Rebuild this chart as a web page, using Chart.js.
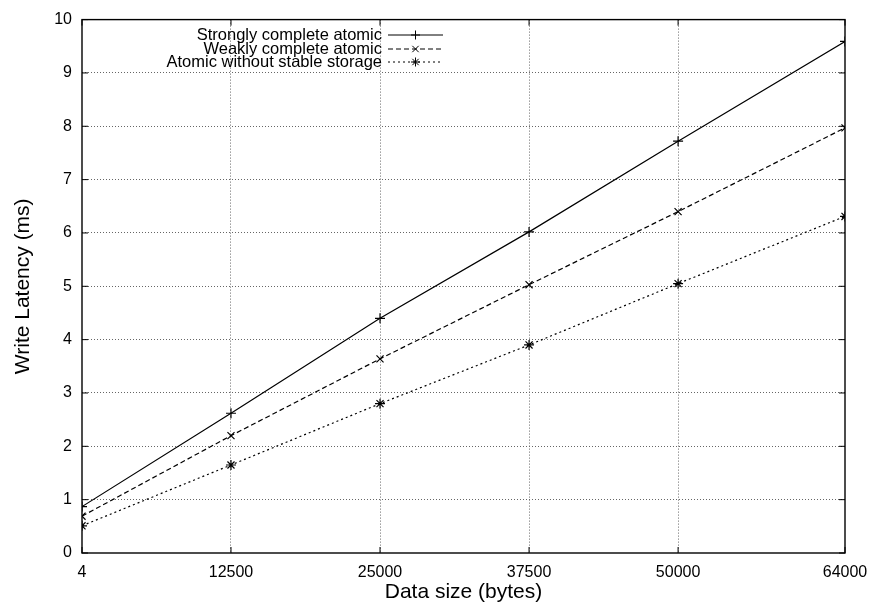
<!DOCTYPE html>
<html>
<head>
<meta charset="utf-8">
<script src="https://cdn.jsdelivr.net/npm/chart.js@4/dist/chart.umd.min.js"></script>
<style>
  html, body { margin: 0; padding: 0; background: #fff; }
  #wrap { width: 872px; height: 605px; position: relative; }
</style>
</head>
<body>
<div id="wrap"><canvas id="latency-chart" width="872" height="605"></canvas></div>
<script>
// data
const dataSizes = [4, 12500, 25000, 37500, 50000, 64000];
const strongLatency = [0.87, 2.62, 4.40, 6.02, 7.72, 9.59];
const weakLatency = [0.69, 2.20, 3.64, 5.03, 6.40, 7.97];
const noStableLatency = [0.51, 1.65, 2.80, 3.90, 5.05, 6.31];
const xTickValues = [4, 12500, 25000, 37500, 50000, 64000];
const yTickValues = [0, 1, 2, 3, 4, 5, 6, 7, 8, 9, 10];

const seriesNames = ['Strongly complete atomic', 'Weakly complete atomic', 'Atomic without stable storage'];
const FONT = '"Liberation Sans", Arial, Helvetica, sans-serif';

function toPoints(ys) {
    return dataSizes.map((x, i) => ({ x: x, y: ys[i] }));
}

// frame, inward ticks and the gnuplot style key
const framePlugin = {
    id: 'frame',
    afterDatasetsDraw(chart) {
        const ctx = chart.ctx;
        const area = chart.chartArea;
        const xs = chart.scales.x, ys = chart.scales.y;
        ctx.save();
        ctx.strokeStyle = '#000';
        ctx.lineWidth = 1.4;
        ctx.setLineDash([]);
        ctx.strokeRect(area.left, area.top, area.right - area.left, area.bottom - area.top);
        ctx.lineWidth = 1;
        ctx.beginPath();
        xTickValues.forEach(v => {
            const px = xs.getPixelForValue(v);
            ctx.moveTo(px, area.bottom); ctx.lineTo(px, area.bottom - 6);
            ctx.moveTo(px, area.top); ctx.lineTo(px, area.top + 6);
        });
        yTickValues.forEach(v => {
            const py = ys.getPixelForValue(v);
            ctx.moveTo(area.left, py); ctx.lineTo(area.left + 6, py);
            ctx.moveTo(area.right, py); ctx.lineTo(area.right - 6, py);
        });
        ctx.stroke();

        // key
        ctx.font = '16.5px ' + FONT;
        ctx.fillStyle = '#000';
        ctx.textAlign = 'right';
        ctx.textBaseline = 'middle';
        const textRight = 382, lineStart = 388, lineEnd = 443;
        const rowY = [35, 49, 62];
        chart.data.datasets.forEach((ds, i) => {
            const y = rowY[i];
            ctx.fillText(ds.label, textRight, y);
            ctx.strokeStyle = '#000';
            ctx.lineWidth = 1;
            ctx.setLineDash(ds.borderDash || []);
            ctx.beginPath();
            ctx.moveTo(lineStart, y); ctx.lineTo(lineEnd, y);
            ctx.stroke();
            ctx.setLineDash([]);
            const cx = (lineStart + lineEnd) / 2;
            Chart.helpers.drawPoint(ctx, { pointStyle: ds.pointStyle, radius: 4.5, rotation: 0, borderWidth: 1 }, cx, y);
        });
        ctx.restore();
    }
};

const ctx = document.getElementById('latency-chart').getContext('2d');
new Chart(ctx, {
    type: 'line',
    data: {
        datasets: [
            {
                label: seriesNames[0],
                data: toPoints(strongLatency),
                borderColor: '#000',
                borderWidth: 1.2,
                pointStyle: 'cross',
                pointRadius: 5,
                pointBorderColor: '#000',
                pointBorderWidth: 1.2
            },
            {
                label: seriesNames[1],
                data: toPoints(weakLatency),
                borderColor: '#000',
                borderWidth: 1.2,
                borderDash: [5, 3],
                pointStyle: 'crossRot',
                pointRadius: 5,
                pointBorderColor: '#000',
                pointBorderWidth: 1.2
            },
            {
                label: seriesNames[2],
                data: toPoints(noStableLatency),
                borderColor: '#000',
                borderWidth: 1.2,
                borderDash: [2, 3],
                pointStyle: 'star',
                pointRadius: 5,
                pointBorderColor: '#000',
                pointBorderWidth: 1.2
            }
        ]
    },
    options: {
        responsive: false,
        animation: false,
        devicePixelRatio: 1,
        layout: { padding: { top: 17, right: 27, left: 0, bottom: 0 } },
        plugins: {
            legend: { display: false },
            tooltip: { enabled: false }
        },
        scales: {
            x: {
                type: 'linear',
                min: 4,
                max: 64000,
                afterBuildTicks: scale => { scale.ticks = xTickValues.map(v => ({ value: v })); },
                afterFit: scale => {
                    scale.height = 52;
                    scale.paddingLeft = 0;
                    scale.paddingRight = 0;
                },
                ticks: {
                    color: '#000',
                    font: { family: FONT, size: 16 },
                    padding: 10,
                    maxRotation: 0,
                    autoSkip: false,
                    callback: v => String(v)
                },
                grid: {
                    color: ctx => (ctx.tick && (ctx.tick.value === 4 || ctx.tick.value === 64000)) ? 'rgba(0,0,0,0)' : '#666',
                    lineWidth: 1,
                    drawTicks: false
                },
                border: { display: false, dash: [1, 2] },
                title: {
                    display: true,
                    text: 'Data size (bytes)',
                    color: '#000',
                    font: { family: FONT, size: 21 },
                    padding: { top: 0, bottom: 0 }
                }
            },
            y: {
                min: 0,
                max: 10,
                afterBuildTicks: scale => { scale.ticks = yTickValues.map(v => ({ value: v })); },
                afterFit: scale => { scale.width = 82; },
                ticks: {
                    color: '#000',
                    font: { family: FONT, size: 16 },
                    padding: 10,
                    autoSkip: false
                },
                grid: {
                    color: ctx => (ctx.tick && (ctx.tick.value === 0 || ctx.tick.value === 10)) ? 'rgba(0,0,0,0)' : '#666',
                    lineWidth: 1,
                    drawTicks: false
                },
                border: { display: false, dash: [1, 2] },
                title: {
                    display: true,
                    text: 'Write Latency (ms)',
                    color: '#000',
                    font: { family: FONT, size: 21 },
                    padding: { top: 11, bottom: 0 }
                }
            }
        }
    },
    plugins: [framePlugin]
});
</script>
</body>
</html>
